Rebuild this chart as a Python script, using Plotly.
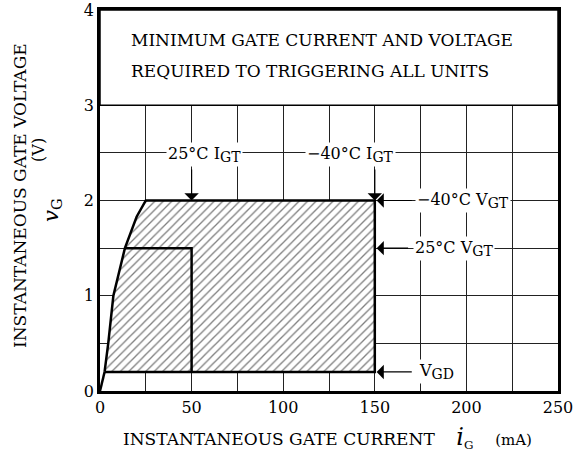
import plotly.graph_objects as go

# ---- data ----
x_ticks = [0, 50, 100, 150, 200, 250]
y_ticks = [0, 1, 2, 3, 4]
curve_i = [0, 2.5, 4.5, 7.3, 13.6, 20, 25]          # mA, left boundary curve
curve_v = [0, 0.2, 0.5, 1.0, 1.5, 1.83, 2.0]        # V
igt_m40 = 150    # -40°C IGT (mA)
igt_25 = 50      # 25°C IGT (mA)
vgt_m40 = 2.0    # -40°C VGT (V)
vgt_25 = 1.5     # 25°C VGT (V)
vgd = 0.2        # VGD (V)

FONT = "DejaVu Serif"

fig = go.Figure()

# hatched region
poly_x = curve_i[1:] + [igt_m40, igt_m40, curve_i[1]]
poly_y = curve_v[1:] + [vgt_m40, vgd, vgd]
fig.add_trace(go.Scatter(
    x=poly_x, y=poly_y, mode="lines", fill="toself",
    fillcolor="white",
    fillpattern=dict(shape="/", fgcolor="black", bgcolor="white", size=6, solidity=0.22),
    line=dict(color="black", width=2.5), hoverinfo="skip", showlegend=False))

# curve from origin
fig.add_trace(go.Scatter(x=curve_i[:2], y=curve_v[:2], mode="lines",
                         line=dict(color="black", width=2.5), showlegend=False))

# 25°C inner boundary
x25 = [curve_i[4], igt_25, igt_25]
y25 = [vgt_25, vgt_25, vgd]
fig.add_trace(go.Scatter(x=x25, y=y25, mode="lines",
                         line=dict(color="black", width=2.5), showlegend=False))

ann = []
tf = dict(family=FONT, size=16, color="black")
SUB = "<sub><span style='font-size:14px'>%s</span></sub>"

# header box text
ann.append(dict(x=16, y=3.69, text="MINIMUM GATE CURRENT AND VOLTAGE", showarrow=False,
                xanchor="left", font=dict(family=FONT, size=17, color="black")))
ann.append(dict(x=16, y=3.36, text="REQUIRED TO TRIGGERING ALL UNITS", showarrow=False,
                xanchor="left", font=dict(family=FONT, size=17, color="black")))

# IGT labels
ann.append(dict(x=57, y=2.48, text="25°C I" + SUB % "GT", showarrow=False,
                bgcolor="white", font=tf, borderpad=1))
ann.append(dict(x=137, y=2.48, text="−40°C I" + SUB % "GT", showarrow=False,
                bgcolor="white", font=tf, borderpad=1))

# right-side labels
ann.append(dict(x=172, y=vgt_m40, text="−40°C V" + SUB % "GT", showarrow=False,
                xanchor="left", bgcolor="white", font=tf, borderpad=1))
ann.append(dict(x=171, y=vgt_25, text="25°C V" + SUB % "GT", showarrow=False,
                xanchor="left", bgcolor="white", font=tf, borderpad=1))
ann.append(dict(x=173, y=vgd, text="V" + SUB % "GD", showarrow=False,
                xanchor="left", bgcolor="white", font=tf, borderpad=1))

# arrows
def arrow(x, y, ax, ay):
    return dict(x=x, y=y, ax=ax, ay=ay, xref="x", yref="y", axref="x", ayref="y",
                text="", showarrow=True, arrowhead=1, arrowsize=2, arrowwidth=1.2,
                arrowcolor="black", standoff=0)

ann.append(arrow(igt_25, vgt_m40, igt_25, 2.34))
ann.append(arrow(igt_m40, vgt_m40, igt_m40, 2.34))
ann.append(arrow(151, vgt_m40, 171, vgt_m40))
ann.append(arrow(151, vgt_25, 169, vgt_25))
ann.append(arrow(151, vgd, 171, vgd))

# axis titles
ann.append(dict(xref="paper", yref="paper", x=-0.175, y=0.514, textangle=-90,
                xanchor="center", yanchor="middle",
                text="INSTANTANEOUS GATE VOLTAGE", showarrow=False,
                font=dict(family=FONT, size=17, color="black")))
ann.append(dict(xref="paper", yref="paper", x=-0.133, y=0.633, textangle=-90,
                xanchor="center", yanchor="middle",
                text="(V)", showarrow=False,
                font=dict(family=FONT, size=16, color="black")))
ann.append(dict(xref="paper", yref="paper", x=-0.105, y=0.475, textangle=-90,
                xanchor="center", yanchor="middle",
                text="<i>v</i><sub>G</sub>", showarrow=False,
                font=dict(family=FONT, size=21, color="black")))
ann.append(dict(xref="paper", yref="paper", x=0.497, y=-0.123, yanchor="middle", xanchor="center",
                text="INSTANTANEOUS GATE CURRENT&nbsp;&nbsp;&nbsp;&nbsp;<span style='font-size:24px'><i>i</i></span><sub>G</sub>&nbsp;&nbsp;&nbsp;&nbsp;<span style='font-size:15px'>(mA)</span>",
                showarrow=False, font=dict(family=FONT, size=17, color="black")))

fig.update_layout(
    width=584, height=459,
    margin=dict(l=100, r=26, t=10, b=68),
    paper_bgcolor="white", plot_bgcolor="white",
    annotations=ann,
    shapes=[dict(type="rect", xref="x", yref="y", x0=0, x1=250, y0=3, y1=4,
                 fillcolor="white", line=dict(color="black", width=1.5), layer="between")],
    xaxis=dict(range=[0, 250], tickvals=x_ticks, ticktext=[str(v) for v in x_ticks],
               showgrid=True, gridcolor="#222", gridwidth=1,
               minor=dict(dtick=25, showgrid=True, gridcolor="#222", gridwidth=1),
               showline=True, linecolor="black", linewidth=2.5, mirror=True,
               automargin=False, ticklabeloverflow="allow",
               ticks="", zeroline=False, tickfont=dict(family=FONT, size=16, color="black")),
    yaxis=dict(range=[0, 4], tickvals=y_ticks, ticktext=[str(v) for v in y_ticks],
               showgrid=True, gridcolor="#222", gridwidth=1,
               minor=dict(dtick=0.5, showgrid=True, gridcolor="#222", gridwidth=1),
               showline=True, linecolor="black", linewidth=2.5, mirror=True,
               automargin=False, ticklabeloverflow="allow",
               ticks="", zeroline=False, tickfont=dict(family=FONT, size=16, color="black")),
)

fig.write_html("out.html", config={"displayModeBar": False},
               post_script="document.body.style.margin='0';")
